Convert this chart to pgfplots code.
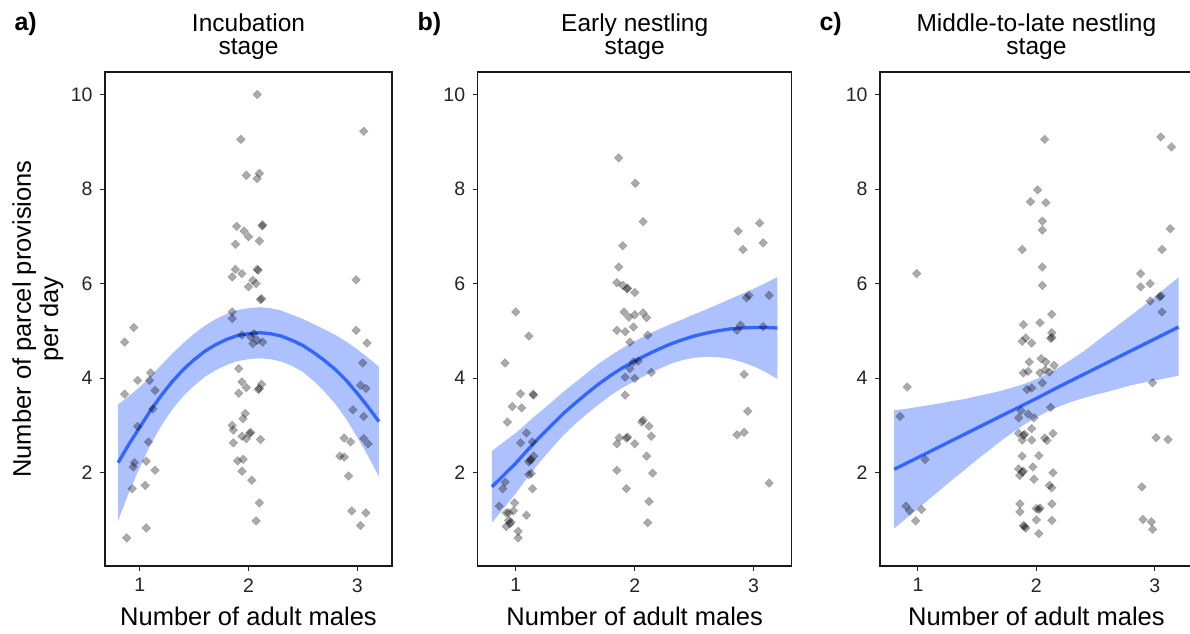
\documentclass[border=0pt]{standalone}
\usepackage{pgfplots}
\pgfplotsset{compat=1.18}
\usepackage{fontspec}
\setmainfont{Liberation Sans}

\definecolor{fitblue}{HTML}{3366FF}
\definecolor{frame}{HTML}{1A1A1A}
\definecolor{ticktext}{HTML}{262626}

\newcommand\tickfont{\fontsize{19.5}{21}\selectfont}
\newcommand\titlefont{\fontsize{24.5}{27}\selectfont}
\newcommand\labfont{\fontsize{25.5}{28}\selectfont}
\newcommand\tagfont{\fontsize{25}{28}\selectfont\bfseries}

\pgfplotsset{
  panel/.style={
    scale only axis, height=494pt,
    xmin=0.68, xmax=3.32, ymin=0.025, ymax=10.475,
    xtick={1,2,3}, ytick={2,4,6,8,10},
    xtick pos=bottom, ytick pos=left,
    tick align=outside, major tick length=5pt,
    tick style={ticktext, line width=1pt},
    axis line style={frame, line width=1.3pt},
    tick label style={font=\tickfont, text=ticktext},
    xticklabel style={yshift=-4pt},
    yticklabel style={xshift=-4pt},
    /pgf/number format/assume math mode=true,
    anchor=south west,
  },
  pts/.style={only marks, mark=square*, mark size=3.1pt,
    mark options={rotate=45, fill=black, draw=black, fill opacity=0.33,
      draw opacity=0.15, line width=0.6pt}},
  band/.style={draw=none, fill=fitblue, fill opacity=0.4},
  fit/.style={color=fitblue, line width=3.3pt, no marks},
}

\begin{document}
\begin{tikzpicture}[x=1pt,y=1pt]
\useasboundingbox (0,0) rectangle (1190,633);
\fill[white] (0,0) rectangle (1190,633);

% ---------------- a) Incubation stage ----------------
\begin{axis}[panel, at={(105pt,67pt)}, width=287pt]
\addplot[pts] coordinates {
 (0.86,4.76) (0.945,5.07) (0.86,3.66) (0.98,3.95) (1.10,4.11) (1.09,3.95)
 (1.14,3.74) (1.12,3.35) (0.98,2.98) (1.08,2.65) (0.95,2.21) (0.94,2.12)
 (1.06,2.24) (1.14,2.05) (0.93,1.66) (1.05,1.73) (1.06,0.83) (0.88,0.62)
 (2.08,10.0) (1.93,9.05) (1.98,8.29) (2.10,8.33) (2.08,8.22) (1.89,7.21)
 (1.96,7.11) (2.00,6.99) (1.88,6.83) (2.10,6.90) (2.125,7.22) (2.13,7.24)
 (1.88,6.30) (1.85,6.14) (1.94,6.21) (2.08,6.30) (2.09,6.28) (2.04,6.07)
 (2.07,6.00) (2.00,5.93) (2.11,5.66) (2.12,5.68) (1.85,5.40) (1.85,5.26)
 (1.94,4.91) (2.02,4.87) (2.04,4.73) (2.08,4.80) (2.13,4.76) (2.05,4.94)
 (1.91,4.20) (1.94,3.92) (1.98,3.80) (1.91,3.68) (2.12,3.87) (2.09,3.76)
 (2.10,3.78) (1.97,3.25) (1.95,3.14) (1.85,3.00) (1.86,2.90) (2.01,2.83)
 (2.02,2.85) (1.94,2.77) (1.98,2.72) (2.11,2.70) (1.86,2.63) (1.90,2.25)
 (1.95,2.28) (1.94,2.03) (2.03,1.84) (2.10,1.36) (2.07,0.98)
 (3.06,9.22) (2.99,6.08) (2.99,5.01) (3.09,4.74) (3.05,4.32) (3.03,3.85)
 (3.08,3.78) (2.96,3.33) (3.06,3.19) (3.06,2.72) (3.10,2.61) (2.88,2.73)
 (2.94,2.65) (2.84,2.35) (2.88,2.33) (2.92,1.93) (2.95,1.19) (3.08,1.15)
 (3.03,0.88)
};
\addplot[band] coordinates {
 (0.8,3.44) (0.9,3.62) (1.0,3.81) (1.1,4.04) (1.2,4.28) (1.3,4.52) (1.4,4.74)
 (1.5,4.94) (1.6,5.11) (1.7,5.25) (1.8,5.36) (1.9,5.44) (2.0,5.48) (2.1,5.50)
 (2.2,5.48) (2.3,5.43) (2.4,5.34) (2.5,5.25) (2.6,5.14) (2.7,5.03) (2.8,4.91)
 (2.9,4.77) (3.0,4.61) (3.1,4.43) (3.2,4.24)
 (3.2,1.92) (3.1,2.35) (3.0,2.75) (2.9,3.13) (2.8,3.45) (2.7,3.71) (2.6,3.94)
 (2.5,4.13) (2.4,4.26) (2.3,4.35) (2.2,4.40) (2.1,4.42) (2.0,4.40) (1.9,4.36)
 (1.8,4.28) (1.7,4.17) (1.6,4.03) (1.5,3.84) (1.4,3.62) (1.3,3.34) (1.2,3.00)
 (1.1,2.60) (1.0,2.11) (0.9,1.58) (0.8,0.98)
};
\addplot[fit] coordinates {
 (0.8,2.21) (0.9,2.60) (1.0,2.96) (1.1,3.32) (1.2,3.64) (1.3,3.93) (1.4,4.18)
 (1.5,4.39) (1.6,4.57) (1.7,4.71) (1.8,4.82) (1.9,4.90) (2.0,4.94) (2.1,4.96)
 (2.2,4.94) (2.3,4.89) (2.4,4.80) (2.5,4.69) (2.6,4.54) (2.7,4.37) (2.8,4.18)
 (2.9,3.95) (3.0,3.68) (3.1,3.39) (3.2,3.08)
};
\end{axis}

% ---------------- b) Early nestling stage ----------------
\begin{axis}[panel, at={(477.7pt,67pt)}, width=314pt]
\addplot[pts] coordinates {
 (1.00,5.40) (1.11,4.89) (0.91,4.32) (1.04,3.67) (1.145,3.66) (1.15,3.64)
 (0.97,3.40) (1.05,3.37) (0.93,3.07) (1.09,2.84) (1.04,2.63) (1.14,2.65)
 (1.15,2.35) (1.13,2.28) (1.12,2.26) (1.11,2.23) (1.11,1.96) (1.13,1.98)
 (1.14,1.66) (0.91,1.80) (0.89,1.66) (0.86,1.29) (0.99,1.36) (0.92,1.15)
 (0.94,1.15) (0.98,1.19) (1.09,1.10) (0.94,0.99) (0.96,0.95) (0.95,0.92)
 (0.92,0.86) (1.02,0.76) (1.02,0.62)
 (1.865,8.66) (2.005,8.12) (2.07,7.31) (1.90,6.80) (1.865,6.35) (1.85,6.02)
 (1.90,5.96) (1.935,5.89) (1.94,5.90) (2.00,5.81) (1.91,5.40) (1.95,5.29)
 (2.00,5.34) (2.07,5.38) (2.10,5.28) (1.85,5.01) (1.92,4.98) (1.99,5.08)
 (1.96,4.76) (2.11,4.91) (1.99,4.34) (2.03,4.36) (1.96,4.20) (1.92,4.02)
 (2.00,3.99) (2.14,4.12) (1.92,3.64) (2.06,3.07) (2.07,3.11) (2.12,2.98)
 (2.14,2.77) (1.85,2.61) (1.87,2.74) (1.93,2.73) (1.94,2.75) (2.00,2.61)
 (2.10,2.35) (1.85,2.05) (2.15,1.99) (1.93,1.66) (2.12,1.39) (2.11,0.94)
 (2.87,7.11) (3.05,7.28) (2.91,6.72) (3.08,6.86) (2.96,5.75) (2.94,5.70)
 (3.13,5.75) (2.86,5.01) (2.89,5.12) (3.08,5.09) (2.92,4.08) (2.95,3.30)
 (2.86,2.80) (2.92,2.85) (3.13,1.78)
};
\addplot[band] coordinates {
 (0.8,2.46) (0.9,2.65) (1.0,2.84) (1.1,3.06) (1.2,3.28) (1.3,3.49) (1.4,3.71)
 (1.5,3.91) (1.6,4.11) (1.7,4.31) (1.8,4.48) (1.9,4.64) (2.0,4.78) (2.1,4.91)
 (2.2,5.03) (2.3,5.14) (2.4,5.24) (2.5,5.35) (2.6,5.45) (2.7,5.56) (2.8,5.67)
 (2.9,5.78) (3.0,5.89) (3.1,6.01) (3.2,6.14)
 (3.2,3.98) (3.1,4.13) (3.0,4.25) (2.9,4.34) (2.8,4.41) (2.7,4.44) (2.6,4.45)
 (2.5,4.43) (2.4,4.38) (2.3,4.30) (2.2,4.19) (2.1,4.07) (2.0,3.94) (1.9,3.80)
 (1.8,3.64) (1.7,3.45) (1.6,3.25) (1.5,3.03) (1.4,2.79) (1.3,2.51) (1.2,2.22)
 (1.1,1.90) (1.0,1.56) (0.9,1.25) (0.8,0.94)
};
\addplot[fit] coordinates {
 (0.8,1.70) (0.9,1.95) (1.0,2.20) (1.1,2.48) (1.2,2.75) (1.3,3.00) (1.4,3.25)
 (1.5,3.47) (1.6,3.68) (1.7,3.88) (1.8,4.06) (1.9,4.22) (2.0,4.36) (2.1,4.49)
 (2.2,4.61) (2.3,4.72) (2.4,4.81) (2.5,4.89) (2.6,4.95) (2.7,5.00) (2.8,5.04)
 (2.9,5.06) (3.0,5.07) (3.1,5.07) (3.2,5.06)
};
\end{axis}

% ---------------- c) Middle-to-late nestling stage ----------------
\begin{axis}[panel, at={(880pt,67pt)}, width=312.8pt]
\addplot[pts] coordinates {
 (0.99,6.21) (0.91,3.81) (0.85,3.19) (1.06,2.28) (0.90,1.29) (0.93,1.19)
 (1.03,1.22) (0.98,0.98)
 (2.07,9.05) (2.01,7.98) (1.95,7.73) (2.08,7.71) (2.05,7.32) (2.05,7.13)
 (1.88,6.72) (2.05,6.35) (2.05,5.96) (2.13,5.35) (1.89,5.13) (2.03,5.17)
 (2.13,4.96) (2.12,4.84) (2.13,4.86) (1.88,4.78) (1.91,4.85) (1.96,4.74)
 (1.94,4.34) (2.04,4.41) (2.08,4.34) (1.89,4.11) (1.93,4.14) (2.03,4.11)
 (2.075,4.17) (2.11,4.13) (2.15,4.27) (1.92,3.76) (1.96,3.79) (2.05,3.90)
 (2.12,3.38) (1.87,3.31) (1.85,3.16) (1.93,3.24) (1.98,3.16) (1.96,2.93)
 (1.85,2.83) (1.89,2.79) (1.90,2.81) (1.88,2.69) (1.96,2.69) (2.07,2.73)
 (2.09,2.68) (2.14,2.83) (1.88,2.35) (2.02,2.36) (1.97,2.12) (1.85,2.08)
 (1.88,2.01) (1.89,2.03) (1.86,1.94) (2.14,2.00) (1.98,1.86) (2.11,1.73)
 (2.13,1.68) (1.86,1.34) (1.86,1.17) (2.00,1.24) (2.03,1.25) (2.02,1.22)
 (2.13,1.34) (2.00,1.00) (2.13,0.99) (1.89,0.88) (1.91,0.83) (1.90,0.86)
 (2.02,0.71)
 (3.05,9.10) (3.14,8.89) (3.13,7.16) (3.06,6.72) (2.88,6.21) (2.88,5.93)
 (2.96,6.00) (2.96,5.63) (3.04,5.72) (3.05,5.74) (3.06,5.40) (2.98,3.90)
 (3.01,2.74) (3.11,2.70) (2.89,1.70) (2.90,1.01) (2.97,0.96) (2.98,0.80)
};
\addplot[band] coordinates {
 (0.8,3.32) (0.9,3.35) (1.0,3.39) (1.1,3.43) (1.2,3.47) (1.3,3.52) (1.4,3.56)
 (1.5,3.62) (1.6,3.67) (1.7,3.73) (1.8,3.80) (1.9,3.88) (2.0,3.98) (2.1,4.10)
 (2.2,4.24) (2.3,4.40) (2.4,4.57) (2.5,4.76) (2.6,4.95) (2.7,5.14) (2.8,5.33)
 (2.9,5.52) (3.0,5.72) (3.1,5.93) (3.2,6.13)
 (3.2,4.05) (3.1,4.00) (3.0,3.95) (2.9,3.90) (2.8,3.85) (2.7,3.78) (2.6,3.71)
 (2.5,3.65) (2.4,3.58) (2.3,3.50) (2.2,3.41) (2.1,3.30) (2.0,3.17) (1.9,3.02)
 (1.8,2.85) (1.7,2.67) (1.6,2.47) (1.5,2.28) (1.4,2.07) (1.3,1.87) (1.2,1.66)
 (1.1,1.45) (1.0,1.24) (0.9,1.03) (0.8,0.82)
};
\addplot[fit] coordinates {
 (0.8,2.07) (1.0,2.32) (1.2,2.57) (1.4,2.82) (1.6,3.07) (1.8,3.32) (2.0,3.57)
 (2.2,3.83) (2.4,4.08) (2.6,4.33) (2.8,4.58) (3.0,4.83) (3.2,5.08)
};
\end{axis}

% ---------------- titles, tags and axis titles ----------------
\node[anchor=base west, font=\tagfont] at (11,602) {a)};
\node[anchor=base west, font=\tagfont] at (414,602) {b)};
\node[anchor=base west, font=\tagfont] at (816,602) {c)};

\node[anchor=base, font=\titlefont] at (248.5,601.5) {Incubation};
\node[anchor=base, font=\titlefont] at (248.5,578) {stage};
\node[anchor=base, font=\titlefont] at (634.7,601.5) {Early nestling};
\node[anchor=base, font=\titlefont] at (634.7,578) {stage};
\node[anchor=base, font=\titlefont] at (1036.4,601.5) {Middle-to-late nestling};
\node[anchor=base, font=\titlefont] at (1036.4,578) {stage};

\node[anchor=base, font=\labfont] at (248.5,8) {Number of adult males};
\node[anchor=base, font=\labfont] at (634.7,8) {Number of adult males};
\node[anchor=base, font=\labfont] at (1036.4,8) {Number of adult males};

\node[anchor=base, rotate=90, font=\labfont] at (31,314) {Number of parcel provisions};
\node[anchor=base, rotate=90, font=\labfont] at (58,314) {per day};
\end{tikzpicture}
\end{document}
